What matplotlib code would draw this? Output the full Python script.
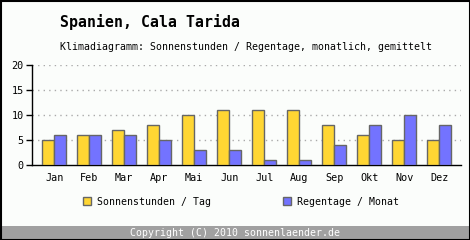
import matplotlib
matplotlib.use("Agg")
import matplotlib.pyplot as plt
from matplotlib.patches import Rectangle
import numpy as np

months = ["Jan", "Feb", "Mar", "Apr", "Mai", "Jun", "Jul", "Aug", "Sep", "Okt", "Nov", "Dez"]
sonnenstunden = [5, 6, 7, 8, 10, 11, 11, 11, 8, 6, 5, 5]
regentage = [6, 6, 6, 5, 3, 3, 1, 1, 4, 8, 10, 8]
yticks = [0, 5, 10, 15, 20]

W, H = 470, 240
fig = plt.figure(figsize=(W / 100, H / 100), dpi=100)
bg = "#FBFDFB"
fig.patch.set_facecolor(bg)
mono = "DejaVu Sans Mono"
fs = 7.1

ax = fig.add_axes([32 / W, (H - 165) / H, (461 - 32) / W, 100 / H])
ax.set_facecolor(bg)
x = np.arange(len(months))
bw = 12 / 35
yellow = "#FFD633"
blue = "#7373FF"
edge = "#666666"
ax.bar(x - bw / 2, sonnenstunden, bw, color=yellow, edgecolor=edge, linewidth=1, zorder=3)
ax.bar(x + bw / 2, regentage, bw, color=blue, edgecolor=edge, linewidth=1, zorder=3)
ax.set_xlim((32 - 54.3) / 35, (461 - 54.3) / 35)
ax.set_ylim(0, 20)
ax.set_yticks(yticks)
ax.set_xticks(x)
ax.set_xticklabels(months, fontsize=7.3, family=mono)
ax.set_yticklabels([str(v) for v in yticks], fontsize=7.3, family=mono)
ax.tick_params(axis="x", length=0, pad=6)
ax.tick_params(axis="y", length=4, width=1, pad=2, direction="out")
for s in ["top", "right"]:
    ax.spines[s].set_visible(False)
ax.spines["left"].set_linewidth(1)
ax.spines["bottom"].set_linewidth(1)
for v in yticks[1:]:
    ax.axhline(v, color="#AAAAAA", linestyle=(0, (1, 3)), linewidth=1, zorder=1)

fig.text(60 / W, 1 - 22 / H, "Spanien, Cala Tarida", fontsize=10.7, fontweight="bold",
         family=mono, va="center", ha="left")
fig.text(60 / W, 1 - 47 / H, "Klimadiagramm: Sonnenstunden / Regentage, monatlich, gemittelt",
         fontsize=fs, family=mono, va="center", ha="left")

# legend
fig.patches.append(Rectangle((83 / W, 1 - 205 / H), 8 / W, 8 / H, transform=fig.transFigure,
                             facecolor=yellow, edgecolor=edge, linewidth=1))
fig.text(97 / W, 1 - 202 / H, "Sonnenstunden / Tag", fontsize=fs, family=mono, va="center", ha="left")
fig.patches.append(Rectangle((283 / W, 1 - 205 / H), 8 / W, 8 / H, transform=fig.transFigure,
                             facecolor=blue, edgecolor=edge, linewidth=1))
fig.text(297 / W, 1 - 202 / H, "Regentage / Monat", fontsize=fs, family=mono, va="center", ha="left")

# footer
fig.patches.append(Rectangle((0, 0), 1, 14 / H, transform=fig.transFigure,
                             facecolor="#A0A0A0", edgecolor="none"))
fig.text(235 / W, 7 / H, "Copyright (C) 2010 sonnenlaender.de", fontsize=fs, family=mono,
         color="white", va="center", ha="center")
# border
fig.patches.append(Rectangle((0.5 / W, 0.5 / H), 1 - 1 / W, 1 - 1 / H, transform=fig.transFigure,
                             facecolor="none", edgecolor="black", linewidth=1.5))

fig.savefig("out.png", dpi=100, facecolor=bg)
